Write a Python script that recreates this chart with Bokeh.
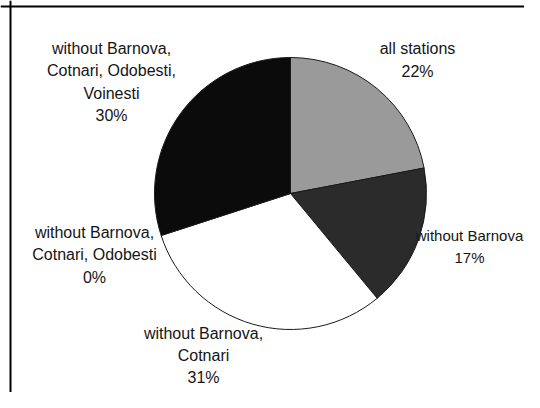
import numpy as np
from bokeh.plotting import figure
from bokeh.models import ColumnDataSource, Range1d, Span
from bokeh.core.properties import value
from bokeh.embed import file_html
from bokeh.resources import INLINE

# ---- data ----
categories = [
    "all stations",
    "without Barnova",
    "without Barnova,\nCotnari",
    "without Barnova,\nCotnari, Odobesti",
    "without Barnova,\nCotnari, Odobesti,\nVoinesti",
]
shares = [22, 17, 31, 0, 30]
colors = ["#9a9a9a", "#2b2b2b", "#ffffff", "#808080", "#0b0b0b"]

# ---- layout (figure pixels: x from left, y from top) ----
W, H = 524, 392
cx_px, cy_px, radius = 290, 193, 136
label_pos_px = [(417, 59.5), (469, 246), (203, 355), (94, 254.5), (111, 81.5)]
label_sizes = ["16px", "15px", "16px", "16px", "16px"]

def to_data_y(py):
    return H - py

vals = np.array(shares, dtype=float)
frac = vals / vals.sum()
cum = np.concatenate([[0.0], np.cumsum(frac)])
start = np.pi / 2 - 2 * np.pi * cum[:-1]
end = np.pi / 2 - 2 * np.pi * cum[1:]
keep = vals > 0  # a zero-width wedge would render as a full disc

src = ColumnDataSource(dict(
    x=[cx_px] * int(keep.sum()), y=[to_data_y(cy_px)] * int(keep.sum()),
    start=start[keep], end=end[keep],
    color=[c for c, k in zip(colors, keep) if k],
))

labels = [f"{c}\n{int(round(v))}%" for c, v in zip(categories, shares)]
lsrc = ColumnDataSource(dict(
    x=[p[0] for p in label_pos_px],
    y=[to_data_y(p[1]) for p in label_pos_px],
    text=labels,
    size=label_sizes,
))

p = figure(width=W, height=H, output_backend="svg", toolbar_location=None,
           x_range=Range1d(0, W), y_range=Range1d(0, H),
           x_axis_type=None, y_axis_type=None, min_border=0)
p.grid.visible = False
p.outline_line_color = None
p.background_fill_color = "white"
p.border_fill_color = "white"

p.wedge(x="x", y="y", radius=radius, start_angle="start", end_angle="end",
        direction="clock", fill_color="color", line_color="#1a1a1a",
        line_width=1, source=src)

p.text(x="x", y="y", text="text", source=lsrc, text_align="center",
       text_baseline="middle", text_font=value("Liberation Sans"),
       text_font_size="size", text_color="#151515", text_line_height=1.3)

p.add_layout(Span(location=10, dimension="height", line_color="black", line_width=2))
p.add_layout(Span(location=to_data_y(6), dimension="width", line_color="black", line_width=2))

open("out.html", "w").write(file_html(p, INLINE))
